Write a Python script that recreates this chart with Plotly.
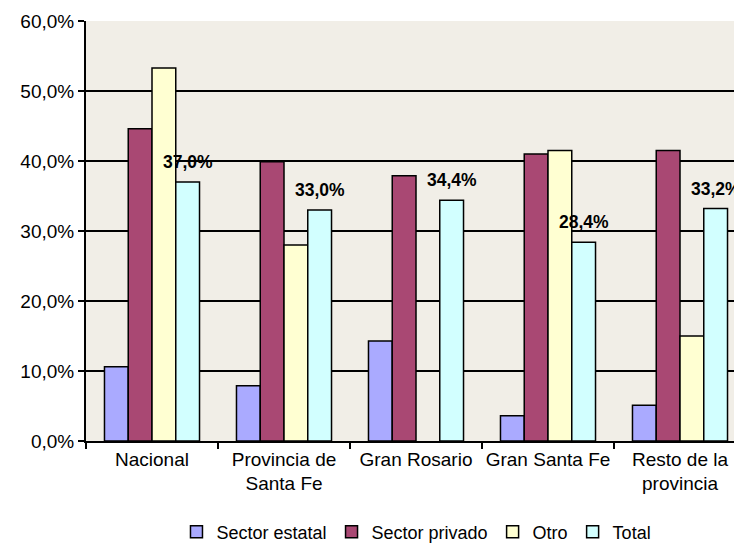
import plotly.graph_objects as go

categories = ["Nacional", "Provincia de<br>Santa Fe", "Gran Rosario", "Gran Santa Fe", "Resto de la<br>provincia"]
sector_estatal = [10.6, 7.9, 14.3, 3.6, 5.1]
sector_privado = [44.6, 39.9, 37.9, 41.0, 41.5]
otro = [53.3, 28.0, None, 41.5, 15.0]
total = [37.0, 33.0, 34.4, 28.4, 33.2]

series = [
    ("Sector estatal", sector_estatal, "#AAAAFF"),
    ("Sector privado", sector_privado, "#A94873"),
    ("Otro", otro, "#FFFFD2"),
    ("Total", total, "#D2FFFF"),
]

FONT = "Liberation Sans, Arial, sans-serif"

fig = go.Figure()
for name, vals, color in series:
    fig.add_trace(go.Bar(
        name=name, x=categories, y=vals,
        marker=dict(color=color, line=dict(color="black", width=1.5)),
    ))

# data labels on Total series
bar_px = 132 * 0.72 / 4
for cat, v in zip(categories, total):
    fig.add_annotation(
        x=cat, y=v, xref="x", yref="y",
        text="<b>" + f"{v:.1f}".replace(".", ",") + "%</b>",
        showarrow=False, xshift=1.5 * bar_px, yshift=20,
        font=dict(family=FONT, size=17.5, color="black"),
    )

fig.update_layout(
    width=734, height=543,
    margin=dict(l=86, r=0, t=21, b=102, autoexpand=False),
    paper_bgcolor="white",
    plot_bgcolor="#F1EEE7",
    barmode="group", bargap=0.28, bargroupgap=0,
    separators=",.",
    font=dict(family=FONT, size=19, color="black"),
    showlegend=True,
    legend=dict(
        orientation="h", x=0.51, xanchor="center", y=-0.217, yanchor="middle",
        font=dict(family=FONT, size=18, color="black"),
        traceorder="normal", itemwidth=30,
    ),
    xaxis=dict(
        type="category", range=[-0.5, -0.5 + 648 / 132],
        automargin=False, tickangle=0,
        showline=True, linecolor="black", linewidth=1.5,
        ticks="outside", tickson="boundaries", ticklen=6, tickcolor="black", tickwidth=1.5,
        tickfont=dict(family=FONT, size=19, color="black"),
        showgrid=False,
    ),
    yaxis=dict(
        range=[0, 60], dtick=10, tickformat=".1f", ticksuffix="%",
        automargin=False,
        showline=True, linecolor="black", linewidth=2,
        ticks="outside", ticklen=6, tickcolor="black", tickwidth=1.5,
        showgrid=True, gridcolor="black", gridwidth=1.5,
        tickfont=dict(family=FONT, size=19, color="black"),
        zeroline=False,
    ),
)

fig.write_html(
    "out.html",
    config={"displayModeBar": False},
    post_script="document.body.style.margin='0';document.body.style.overflow='hidden';",
)
